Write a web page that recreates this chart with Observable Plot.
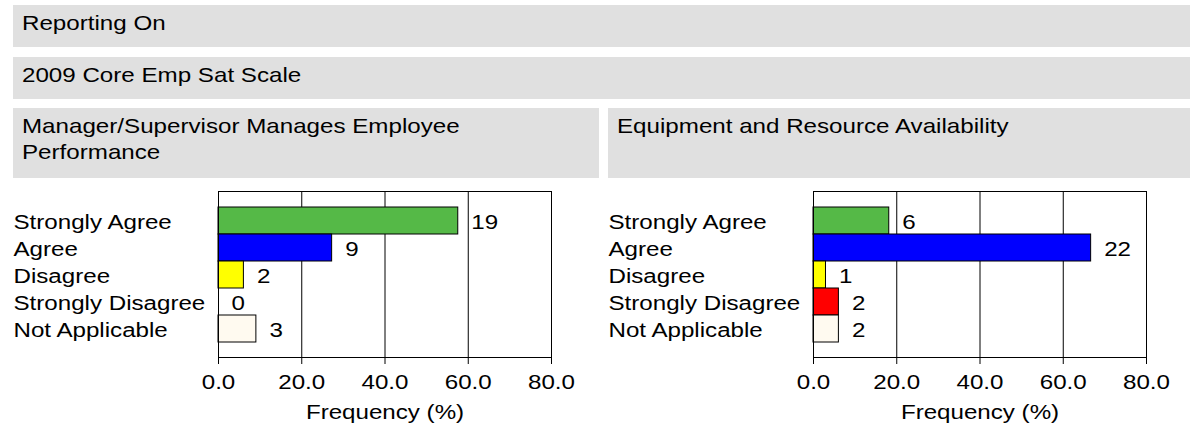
<!DOCTYPE html>
<html><head><meta charset="utf-8">
<script src="https://cdn.jsdelivr.net/npm/d3@7"></script>
<script src="https://cdn.jsdelivr.net/npm/@observablehq/plot@0.6"></script>
<style>
html,body{margin:0;padding:0;background:#fff;width:1190px;height:430px;overflow:hidden;position:relative;font-family:"Liberation Sans",Arial,sans-serif;}
.box{position:absolute;background:#e0e0e0;}
.t{position:absolute;left:9px;top:6px;font-size:21px;color:#000;white-space:pre;transform:scaleX(1.15);transform-origin:0 0;}
.t2{top:5px;line-height:26px;}
.chart{position:absolute;top:180px;}
</style></head><body>
<div class="box" style="left:13px;top:5px;width:1177px;height:42px"><div class="t" id="h1"></div></div>
<div class="box" style="left:13px;top:57px;width:1177px;height:42px"><div class="t" id="h2"></div></div>
<div class="box" style="left:13px;top:108px;width:586px;height:70px"><div class="t t2" id="p1"></div></div>
<div class="box" style="left:608px;top:108px;width:582px;height:70px"><div class="t t2" id="p2"></div></div>
<div class="chart" id="c1" style="left:0px"></div>
<div class="chart" id="c2" style="left:595px"></div>
<script>
const reportTitle = "Reporting On";
const scaleTitle = "2009 Core Emp Sat Scale";
const panelTitles = ["Manager/Supervisor Manages Employee\nPerformance", "Equipment and Resource Availability"];
const categories = ["Strongly Agree", "Agree", "Disagree", "Strongly Disagree", "Not Applicable"];
const colors = ["#55b947", "#0000ff", "#ffff00", "#ff0000", "#fffaf0"];
const counts1 = [19, 9, 2, 0, 3];
const pct1 = [57.6, 27.3, 6.1, 0, 9.1];
const counts2 = [6, 22, 1, 2, 2];
const pct2 = [18.2, 66.7, 3.0, 6.1, 6.1];
const xTicks = [0, 20, 40, 60, 80];
const xLabel = "Frequency (%)";

document.getElementById("h1").textContent = reportTitle;
document.getElementById("h2").textContent = scaleTitle;
document.getElementById("p1").textContent = panelTitles[0];
document.getElementById("p2").textContent = panelTitles[1];

// horizontally widen each text around its own anchor point
function stretch(svg, s) {
  svg.querySelectorAll("text").forEach(t => {
    const tr = t.getAttribute("transform") || "";
    t.setAttribute("transform", `${tr} scale(${s},1)`);
  });
}

function panel(counts, pct, width, marginRight) {
  const data = categories.map((c, i) => ({cat: c, pct: pct[i], n: counts[i]}));
  const svg = Plot.plot({
    width, height: 250,
    marginLeft: 218, marginRight, marginTop: 11, marginBottom: 73,
    style: {fontFamily: '"Liberation Sans", Arial, sans-serif', fontSize: "21px", color: "#000", background: "transparent", overflow: "visible"},
    x: {domain: [0, 80]},
    y: {domain: categories, paddingInner: 0, paddingOuter: 0.5},
    color: {domain: categories, range: colors},
    marks: [
      Plot.gridX(xTicks.slice(1, -1), {stroke: "#000", strokeOpacity: 1}),
      Plot.barX(data, {x: "pct", y: "cat", fill: "cat", stroke: "#000", strokeWidth: 1}),
      Plot.frame({stroke: "#000"}),
      Plot.axisX(xTicks, {tickSize: 7, tickPadding: 10, tickFormat: d3.format(".1f"), label: null, stroke: "#000"}),
      Plot.axisY({tickSize: 0, tickPadding: 205, textAnchor: "start", dy: 1.5, label: null}),
      Plot.text(data, {x: "pct", y: "cat", text: d => String(d.n), textAnchor: "start", dx: 13, dy: 1.5}),
      Plot.text([xLabel], {text: d => d, frameAnchor: "bottom", lineAnchor: "top", dy: 47})
    ]
  });
  stretch(svg, 1.15);
  return svg;
}

document.getElementById("c1").appendChild(panel(counts1, pct1, 599, 48));
document.getElementById("c2").appendChild(panel(counts2, pct2, 595, 44));
</script>
</body></html>
